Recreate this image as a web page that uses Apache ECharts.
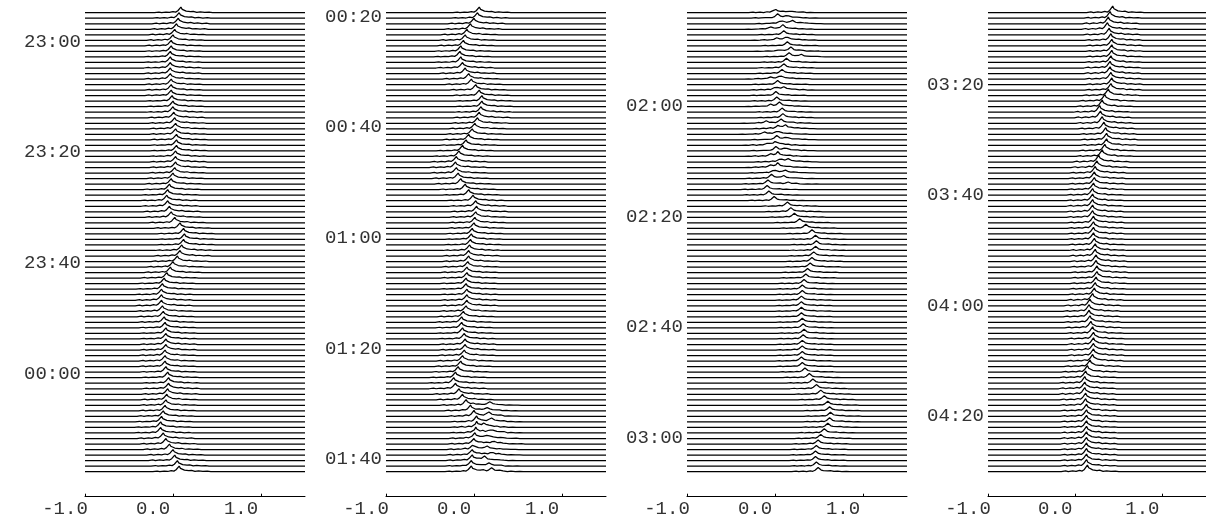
<!DOCTYPE html>
<html>
<head>
<meta charset="utf-8">
<script src="https://cdn.jsdelivr.net/npm/echarts@6/dist/echarts.min.js"></script>
<style>
html,body{margin:0;padding:0;background:#fff;}
#chart{width:1206px;height:522px;}
</style>
</head>
<body>
<div id="chart"></div>
<script>
// ---------------- DATA ----------------
// Minutes after 22:00 of the first trace in each panel; one trace per minute.
const panelStartMin = [54.73, 139.28, 223.13, 307.0];
const traceStepMin = 1;

// Peak (Doppler) velocity of each trace
const centers1 = [0.09,0.07,0.06,0.04,0.02,0.00,-0.02,-0.02,-0.03,-0.03,-0.03,-0.03,-0.03,-0.02,-0.02,-0.02,-0.01,0.00,0.00,0.01,
  0.02,0.03,0.03,0.04,0.04,0.04,0.03,0.03,0.03,0.02,0.00,-0.02,-0.04,-0.06,-0.07,-0.06,-0.04,-0.02,0.02,0.08,
  0.12,0.13,0.12,0.10,0.08,0.05,0.00,-0.03,-0.07,-0.10,-0.12,-0.13,-0.13,-0.13,-0.12,-0.11,-0.10,-0.09,-0.08,-0.08,
  -0.08,-0.08,-0.09,-0.09,-0.09,-0.08,-0.06,-0.05,-0.05,-0.06,-0.07,-0.08,-0.09,-0.11,-0.13,-0.14,-0.14,-0.11,-0.08,-0.04,
  0.00,0.02,0.05,0.07];
const centers2 = [0.06,0.04,0.00,-0.04,-0.08,-0.10,-0.12,-0.15,-0.16,-0.15,-0.13,-0.10,-0.06,-0.03,0.02,0.06,0.09,0.09,0.08,0.06,
  0.04,0.01,-0.02,-0.06,-0.09,-0.13,-0.17,-0.20,-0.21,-0.20,-0.18,-0.15,-0.10,-0.06,-0.01,0.02,0.03,0.02,0.01,0.00,
  -0.02,-0.03,-0.04,-0.05,-0.06,-0.06,-0.07,-0.08,-0.08,-0.09,-0.09,-0.08,-0.08,-0.08,-0.09,-0.12,-0.14,-0.14,-0.13,-0.11,
  -0.10,-0.10,-0.11,-0.13,-0.15,-0.18,-0.21,-0.23,-0.21,-0.17,-0.13,-0.09,-0.04,0.00,0.03,0.03,0.02,0.01,0.00,-0.01,
  -0.02,-0.02,-0.03,-0.03];
const centers3 = [0.00,0.03,0.07,0.09,0.10,0.13,0.14,0.18,0.16,0.13,0.10,0.08,0.06,0.03,0.01,0.01,0.02,0.05,0.08,0.09,
  0.07,0.04,0.03,0.02,0.01,0.01,0.03,0.06,0.03,-0.01,-0.04,-0.08,-0.09,-0.07,-0.01,0.14,0.18,0.22,0.28,0.35,
  0.42,0.46,0.47,0.46,0.44,0.42,0.40,0.37,0.35,0.33,0.31,0.31,0.30,0.30,0.30,0.30,0.31,0.32,0.33,0.32,
  0.31,0.31,0.31,0.30,0.31,0.34,0.39,0.43,0.47,0.52,0.56,0.60,0.62,0.63,0.62,0.60,0.56,0.52,0.49,0.47,
  0.46,0.46,0.47,0.49];
const centers4 = [0.43,0.40,0.38,0.37,0.39,0.41,0.42,0.42,0.42,0.41,0.40,0.40,0.41,0.42,0.41,0.38,0.34,0.31,0.28,0.29,
  0.31,0.33,0.35,0.36,0.36,0.34,0.31,0.27,0.25,0.23,0.22,0.22,0.21,0.20,0.20,0.20,0.20,0.20,0.21,0.21,
  0.21,0.21,0.22,0.23,0.23,0.24,0.24,0.25,0.25,0.24,0.23,0.22,0.20,0.17,0.16,0.16,0.17,0.18,0.20,0.21,
  0.21,0.21,0.21,0.20,0.17,0.14,0.12,0.11,0.11,0.11,0.12,0.12,0.13,0.13,0.13,0.13,0.13,0.13,0.13,0.13,
  0.13,0.13,0.13,0.14];

// Peak height of each panel's traces, in trace spacings
const peakHeights = [1.0, 1.0, 0.75, 1.2];

// Secondary peaks: [panel, trace index, velocity, height]
const secondPeaks = [
  [1,71,0.18,0.6],[1,72,0.15,0.5],[1,73,0.17,0.7],[1,74,0.20,0.6],[1,75,0.12,0.6],[1,76,0.20,0.7],[1,77,0.16,0.6],
  [1,78,0.22,0.6],[1,79,0.15,0.5],[1,80,0.20,0.6],[1,81,0.12,0.6],[1,82,0.17,0.5],[1,83,0.20,0.6],
  [2,0,0.18,0.4],[2,1,0.14,0.6],[2,2,0.20,0.6],[2,3,-0.05,0.5],[2,5,0.02,0.5],[2,7,0.05,0.4],[2,8,0.30,0.4],
  [2,12,-0.05,0.4],[2,14,0.10,0.5],[2,17,-0.05,0.5],[2,20,-0.10,0.5],[2,21,0.12,0.6],[2,22,-0.12,0.5],
  [2,23,0.13,0.6],[2,24,-0.08,0.6],[2,25,0.12,0.7],[2,26,-0.05,0.5],[2,27,0.15,0.5],[2,28,-0.05,0.5],
  [2,29,0.12,0.5],[2,30,0.10,0.5],[2,31,0.15,0.4]
];

// Spectral line profile (velocity offset, relative height)
const profileDv = [-0.30,-0.25,-0.22,-0.17,-0.13,-0.09,-0.06,-0.035,-0.015,0.00,0.015,0.035,0.06,0.08,0.11,0.14,0.18,0.22,0.27,0.32,0.36];
const profileH  = [0.00,0.12,0.00,0.12,0.04,0.20,0.10,0.35,0.55,1.00,0.60,0.40,0.28,0.38,0.18,0.24,0.06,0.14,0.04,0.10,0.00];

// Axis ticks
const xTickValues = [-1, 0, 1];
const xMin = -1.0, xMax = 1.5;
const yTickMinutes = [[60,80,100,120],[140,160,180,200,220],[240,260,280,300],[320,340,360,380]];

// ---------------- LAYOUT ----------------
const centersAll = [centers1, centers2, centers3, centers4];
const gridLefts = [85, 386, 687, 988];
const gridWidth = 220;
const gridTop = 2, gridBottomY = 496.7;
const padTopMin = 1.935, padBottomMin = 87.52;

function fmtTime(m){
  const h = (22 + Math.floor(m / 60)) % 24;
  const mm = Math.round(m % 60);
  return String(h).padStart(2,'0') + ':' + String(mm).padStart(2,'0');
}
function profileAt(d){
  if (d <= profileDv[0] || d >= profileDv[profileDv.length-1]) return 0;
  for (let i = 1; i < profileDv.length; i++) {
    if (d <= profileDv[i]) {
      const f = (d - profileDv[i-1]) / (profileDv[i] - profileDv[i-1]);
      return profileH[i-1] + f * (profileH[i] - profileH[i-1]);
    }
  }
  return 0;
}

const grids = [], xAxes = [], yAxes = [], series = [];
const labelFont = '"Liberation Mono", "DejaVu Sans Mono", monospace';
for (let p = 0; p < 4; p++) {
  grids.push({ left: gridLefts[p], top: gridTop, width: gridWidth, height: gridBottomY - gridTop });
  xAxes.push({
    gridIndex: p, type: 'value', min: xMin, max: xMax,
    axisLine: { show: true, lineStyle: { color: '#000', width: 1 } },
    axisTick: { show: true, inside: true, length: 3, customValues: xTickValues, lineStyle: { color: '#000' } },
    axisLabel: { customValues: xTickValues, formatter: v => v.toFixed(1), fontFamily: labelFont, fontSize: 19,
      color: '#333', margin: 3, padding: [0, 40, 0, 0] },
    splitLine: { show: false }
  });
  const t0 = panelStartMin[p];
  yAxes.push({
    gridIndex: p, type: 'value', inverse: true, min: t0 - padTopMin, max: t0 + padBottomMin,
    axisLine: { show: false }, axisTick: { show: false }, splitLine: { show: false },
    axisLabel: { customValues: yTickMinutes[p], formatter: v => fmtTime(v), fontFamily: labelFont, fontSize: 19,
      color: '#333', margin: 4 }
  });
  const cs = centersAll[p];
  for (let k = 0; k < cs.length; k++) {
    const t = t0 + k * traceStepMin;
    const peaks = [[cs[k], peakHeights[p]]];
    secondPeaks.forEach(s => { if (s[0] === p && s[1] === k) peaks.push([s[2], s[3] * peakHeights[p]]); });
    let xs = [xMin, xMax];
    peaks.forEach(pk => profileDv.forEach(d => xs.push(pk[0] + d)));
    xs = xs.filter(x => x >= xMin && x <= xMax).sort((a,b) => a - b);
    const data = xs.map(x => {
      let v = 0;
      peaks.forEach(pk => { v += pk[1] * profileAt(x - pk[0]); });
      return [x, t - v];
    });
    series.push({
      type: 'line', xAxisIndex: p, yAxisIndex: p, data: data, symbol: 'none', showSymbol: false,
      silent: true, clip: false, lineStyle: { color: '#000', width: 1.25 }, animation: false
    });
  }
}

const chart = echarts.init(document.getElementById('chart'));
chart.setOption({
  backgroundColor: '#fff',
  animation: false,
  grid: grids, xAxis: xAxes, yAxis: yAxes, series: series
});
</script>
</body>
</html>
